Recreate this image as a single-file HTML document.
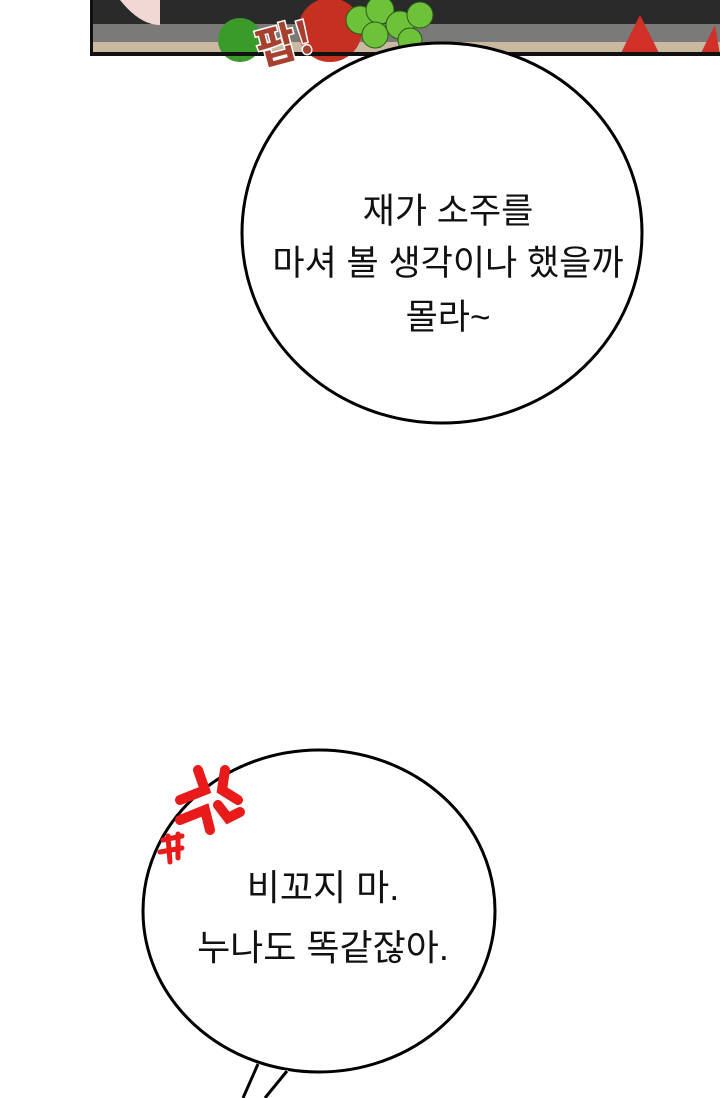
<!DOCTYPE html>
<html><head><meta charset="utf-8"><style>
html,body{margin:0;padding:0;background:#fff;}
body{width:720px;height:1098px;position:relative;overflow:hidden;font-family:"Liberation Sans","Noto Sans CJK KR",sans-serif;}
.t{position:absolute;left:0;width:720px;text-align:center;font-size:35px;color:#111;line-height:52px;}
</style></head><body>
<svg width="720" height="1098" style="position:absolute;left:0;top:0">
 <rect x="90" y="0" width="630" height="55" fill="#2a2a2a"/>
 <rect x="92" y="24" width="628" height="18" fill="#7a7a78"/>
 <rect x="92" y="42" width="628" height="11" fill="#c9b9a0"/>
 <path d="M120 0 Q140 25 160 25 L160 0Z" fill="#f0d8d4"/>
 <circle cx="240" cy="40" r="22" fill="#3a9a2a"/>
 <circle cx="330" cy="30" r="32" fill="#c53020"/>
 <g fill="#6ec23a" stroke="#2a5a1a">
  <circle cx="360" cy="20" r="14"/><circle cx="380" cy="10" r="14"/><circle cx="400" cy="25" r="14"/><circle cx="420" cy="15" r="13"/><circle cx="375" cy="35" r="13"/><circle cx="410" cy="40" r="12"/>
 </g>
 <path d="M620 55 L640 15 L660 55Z M700 55 L715 25 L720 55Z" fill="#d03028"/>
 <rect x="90" y="0" width="3" height="55" fill="#111"/>
 <rect x="90" y="52" width="630" height="4" fill="#111"/>
 <text x="255" y="60" font-size="44" font-weight="bold" fill="#a84030" stroke="#fff" stroke-width="3" paint-order="stroke" transform="rotate(-15 280 40)" font-family="Noto Sans CJK KR,sans-serif">팝!</text>
 <ellipse cx="442" cy="233" rx="200" ry="190" fill="#fff" stroke="#000" stroke-width="3"/>
 <ellipse cx="319" cy="911" rx="176" ry="161" fill="#fff" stroke="#000" stroke-width="3"/>
 <path d="M252 1072 L243 1098 L265 1098 L288 1070Z" fill="#fff"/>
 <path d="M258 1064 L243 1098 M265 1098 L287 1071" stroke="#000" stroke-width="3" fill="none"/>
 <g stroke="#e81a1a" stroke-linecap="round" fill="none">
  <g stroke-width="10">
   <path d="M198 770 L205 790 L180 800"/>
   <path d="M225 770 L222 790 L238 800"/>
   <path d="M180 820 L205 810 L210 830"/>
   <path d="M218 805 L228 818 L240 812"/>
  </g>
  <g stroke-width="5">
   <path d="M163 840 L182 836 M160 852 L182 848 M168 836 L170 862 M178 834 L178 858"/>
  </g>
 </g>
</svg>
<div class="t" style="top:186px;left:101px;width:694px;">재가 소주를</div>
<div class="t" style="top:238px;left:101px;width:694px;">마셔 볼 생각이나 했을까</div>
<div class="t" style="top:292px;left:101px;width:694px;">몰라~</div>
<div class="t" style="top:862px;left:-37px;width:720px;font-size:36px;">비꼬지 마.</div>
<div class="t" style="top:922px;left:-37px;width:720px;font-size:36px;">누나도 똑같잖아.</div>
</body></html>
